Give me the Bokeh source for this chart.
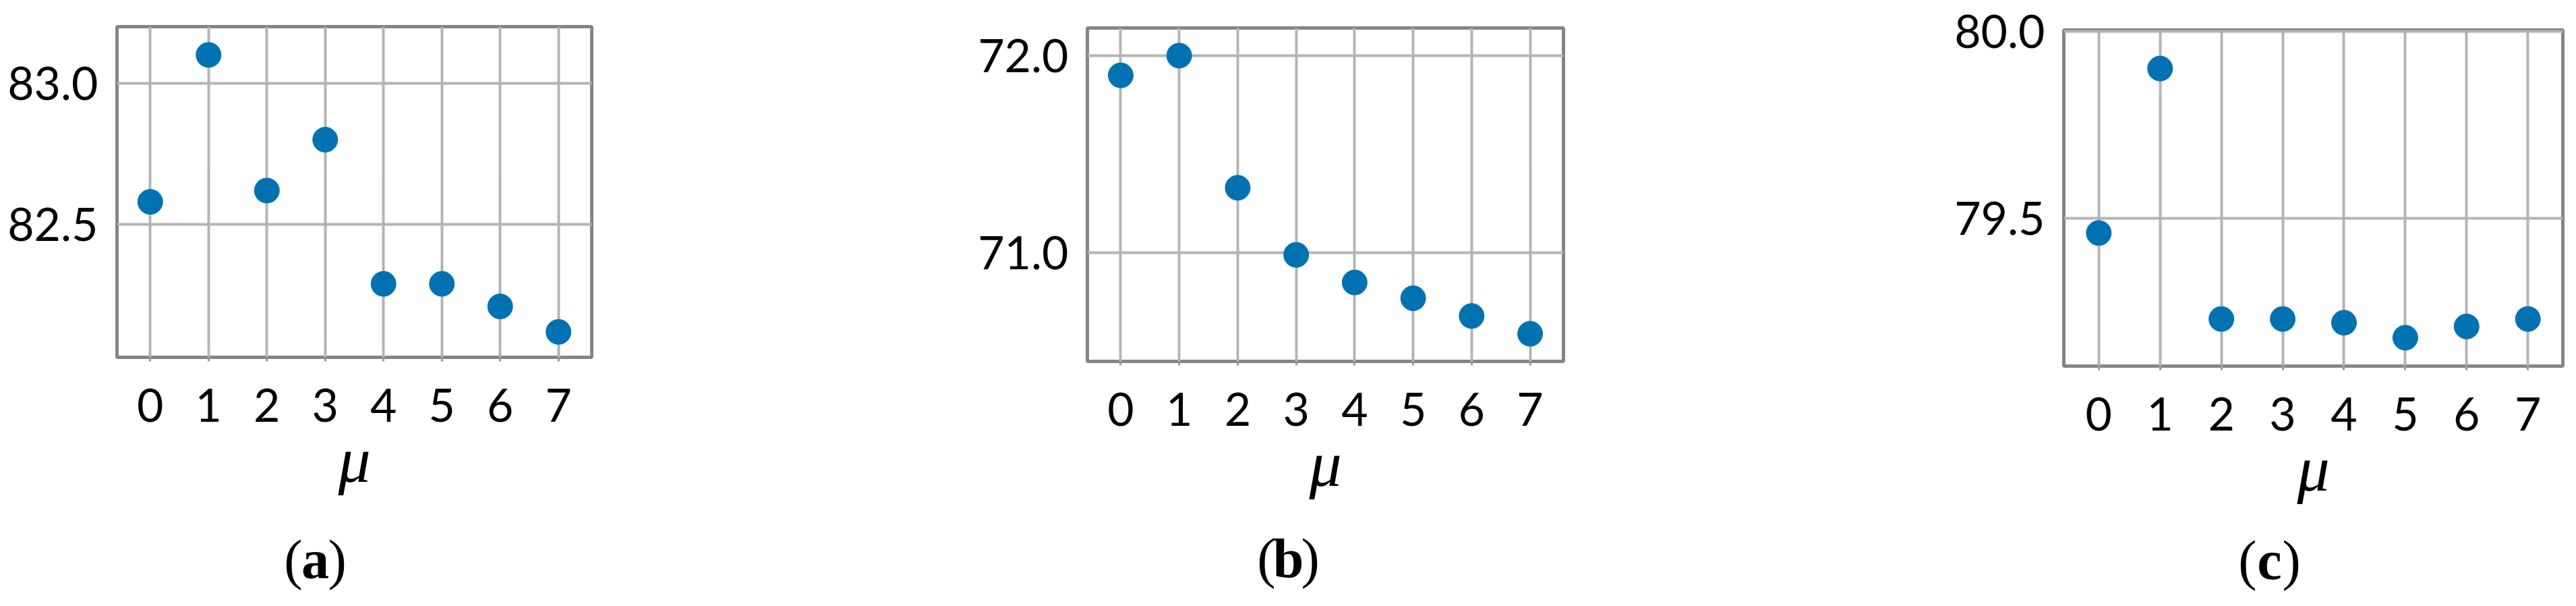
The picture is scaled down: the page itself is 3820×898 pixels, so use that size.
from bokeh.plotting import figure
from bokeh.layouts import row, column
from bokeh.models import FixedTicker, Range1d, PrintfTickFormatter
from bokeh.core.properties import value
from bokeh.embed import file_html
from bokeh.resources import INLINE

# ---- data ----
mu = [0, 1, 2, 3, 4, 5, 6, 7]
acc_a = [82.58, 83.10, 82.62, 82.80, 82.29, 82.29, 82.21, 82.12]
acc_b = [71.90, 72.00, 71.33, 70.99, 70.85, 70.77, 70.68, 70.59]
acc_c = [79.46, 79.90, 79.23, 79.23, 79.22, 79.18, 79.21, 79.23]
yticks_a = [82.5, 83.0]
yticks_b = [71.0, 72.0]
yticks_c = [79.5, 80.0]
captions = ["a", "b", "c"]
x_label = "μ"

DOT = "#0072b2"
GRID = "#b4b4b4"
FRAME = "#858585"
TICK_FONT = "Lato"
SERIF = "Liberation Serif"
PLOT_H = 772
CAP_H = 110


def panel(vals, yticks, yr, width, borders, cap, cap_dx, cap_y):
    left, right, top, bottom = borders
    xr = Range1d(-0.57, 7.57)
    p = figure(width=width, height=PLOT_H, output_backend="svg", toolbar_location=None,
               x_range=xr, y_range=Range1d(*yr),
               min_border_left=left, min_border_right=right,
               min_border_top=top, min_border_bottom=bottom)
    p.outline_line_color = FRAME
    p.outline_line_width = 5
    p.background_fill_color = "white"
    p.border_fill_color = "white"

    p.xaxis.ticker = FixedTicker(ticks=mu)
    p.yaxis.ticker = FixedTicker(ticks=yticks)
    p.yaxis.formatter = PrintfTickFormatter(format="%.1f")
    for ax in (p.xaxis, p.yaxis):
        ax.axis_line_color = None
        ax.minor_tick_line_color = None
        ax.major_label_text_font = TICK_FONT
        ax.major_label_text_font_size = "68px"
        ax.major_label_text_color = "black"
    p.xaxis.major_tick_out = 6
    p.xaxis.major_tick_in = 0
    p.xaxis.major_tick_line_color = "#9a9a9a"
    p.xaxis.major_tick_line_width = 3
    p.xaxis.major_label_standoff = 40
    p.yaxis.major_tick_line_color = None
    p.yaxis.major_tick_out = 0
    p.yaxis.major_tick_in = 0
    p.yaxis.major_label_standoff = 28

    p.xaxis.axis_label = x_label
    p.xaxis.axis_label_text_font = SERIF
    p.xaxis.axis_label_text_font_style = "italic"
    p.xaxis.axis_label_text_font_size = "96px"
    p.xaxis.axis_label_text_color = "black"
    p.xaxis.axis_label_standoff = 0

    p.grid.grid_line_color = GRID
    p.grid.grid_line_width = 4

    p.scatter(mu, vals, size=37, color=DOT, line_color=DOT)

    # caption strip below, sharing the x range so it lines up with the panel
    c = figure(width=width, height=CAP_H, output_backend="svg", toolbar_location=None,
               x_range=xr, y_range=Range1d(0, CAP_H),
               min_border_left=left, min_border_right=right,
               min_border_top=0, min_border_bottom=0)
    c.axis.visible = False
    c.grid.visible = False
    c.outline_line_color = None
    common = dict(text_font=value(SERIF), text_font_size="82px", text_color="black",
                  text_baseline="middle")
    c.text(x=[3.5], y=[cap_y], text=["("], text_align="right", x_offset=cap_dx - 19, **common)
    c.text(x=[3.5], y=[cap_y], text=[cap], text_align="center", text_font_style="bold",
           x_offset=cap_dx, **common)
    c.text(x=[3.5], y=[cap_y], text=[")"], text_align="left", x_offset=cap_dx + 19, **common)
    return column(p, c, spacing=0)


pa = panel(acc_a, yticks_a, (82.03, 83.20), 1230, (173, 353, 39, 243), captions[0], -58, 53)
pb = panel(acc_b, yticks_b, (70.45, 72.14), 1462, (382, 374, 41, 237), captions[1], -55, 55)
pc = panel(acc_c, yticks_c, (79.104, 80.003), 1112, (368, 4, 44, 230), captions[2], -65, 52)

layout = row(pa, pb, pc, spacing=0)
open("out.html", "w").write(file_html(layout, INLINE))
